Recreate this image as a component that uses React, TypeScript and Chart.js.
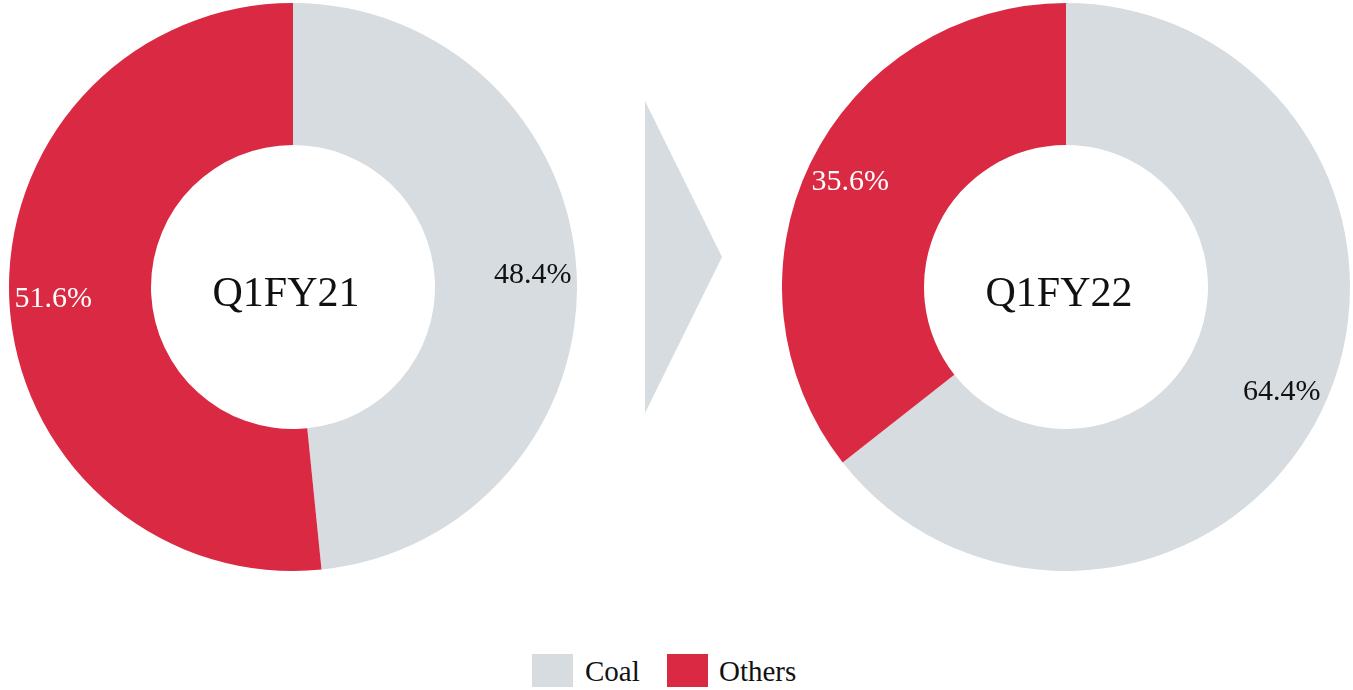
import React, { useEffect, useRef } from "react";
import { Chart, registerables } from "chart.js";

Chart.register(...registerables);

const categories = ["Coal", "Others"];
const periods = ["Q1FY21", "Q1FY22"];
const valuesQ1FY21 = [48.4, 51.6];
const valuesQ1FY22 = [64.4, 35.6];
const colors = ["#D7DCE0", "#DA2942"];
const labelColors = ["#111111", "#FFFFFF"];

const FONT = "'Liberation Serif', 'DejaVu Serif', serif";

const labelPlugin = {
  id: "sliceLabels",
  afterDraw(chart: any) {
    const ctx = chart.ctx;
    const meta = chart.getDatasetMeta(0);
    const data = chart.data.datasets[0].data as number[];
    ctx.save();
    meta.data.forEach((arc: any, i: number) => {
      const p = arc.getProps(["x", "y", "startAngle", "endAngle", "innerRadius", "outerRadius"], true);
      const mid = (p.startAngle + p.endAngle) / 2;
      const r = p.innerRadius + 0.69 * (p.outerRadius - p.innerRadius);
      const x = p.x + Math.cos(mid) * r;
      const y = p.y + Math.sin(mid) * r;
      ctx.font = `30px ${FONT}`;
      ctx.fillStyle = labelColors[i];
      ctx.textAlign = "center";
      ctx.textBaseline = "middle";
      ctx.fillText(data[i].toFixed(1) + "%", x, y);
    });
    const center = meta.data[0];
    const title = chart.options.plugins.centerTitle.text;
    ctx.font = `42px ${FONT}`;
    ctx.fillStyle = "#111111";
    ctx.textAlign = "center";
    ctx.textBaseline = "middle";
    ctx.fillText(title, center.x - 7, center.y + 8);
    ctx.restore();
  },
};

function Donut({ values, title, left }: { values: number[]; title: string; left: number }) {
  const ref = useRef<HTMLCanvasElement>(null);
  useEffect(() => {
    if (!ref.current) return;
    const chart = new Chart(ref.current, {
      type: "doughnut",
      data: {
        labels: categories,
        datasets: [
          {
            data: values,
            backgroundColor: colors,
            borderWidth: 0,
          },
        ],
      },
      options: {
        responsive: false,
        animation: false,
        cutout: "50%",
        layout: { padding: 0 },
        plugins: {
          legend: { display: false },
          tooltip: { enabled: false },
          centerTitle: { text: title },
        } as any,
      },
      plugins: [labelPlugin],
    });
    return () => chart.destroy();
  }, [values, title]);
  return (
    <canvas
      ref={ref}
      width={568}
      height={568}
      style={{ position: "absolute", left, top: 3, width: 568, height: 568 }}
    />
  );
}

export default function App() {
  return (
    <div
      style={{
        position: "fixed",
        left: 0,
        top: 0,
        width: 1353,
        height: 690,
        background: "#FFFFFF",
        overflow: "hidden",
      }}
    >
      <Donut values={valuesQ1FY21} title={periods[0]} left={9} />
      <Donut values={valuesQ1FY22} title={periods[1]} left={782} />
      <div
        style={{
          position: "absolute",
          left: 645,
          top: 101,
          width: 77,
          height: 312,
          background: colors[0],
          clipPath: "polygon(0 0, 100% 50%, 0 100%)",
        }}
      />
      {categories.map((c, i) => (
        <React.Fragment key={c}>
          <div
            style={{
              position: "absolute",
              left: i === 0 ? 532 : 667,
              top: 654,
              width: 41,
              height: 33,
              background: colors[i],
            }}
          />
          <div
            style={{
              position: "absolute",
              left: i === 0 ? 585 : 719,
              top: 653,
              height: 36,
              lineHeight: "36px",
              fontFamily: FONT,
              fontSize: 29,
              color: "#111111",
            }}
          >
            {c}
          </div>
        </React.Fragment>
      ))}
    </div>
  );
}
